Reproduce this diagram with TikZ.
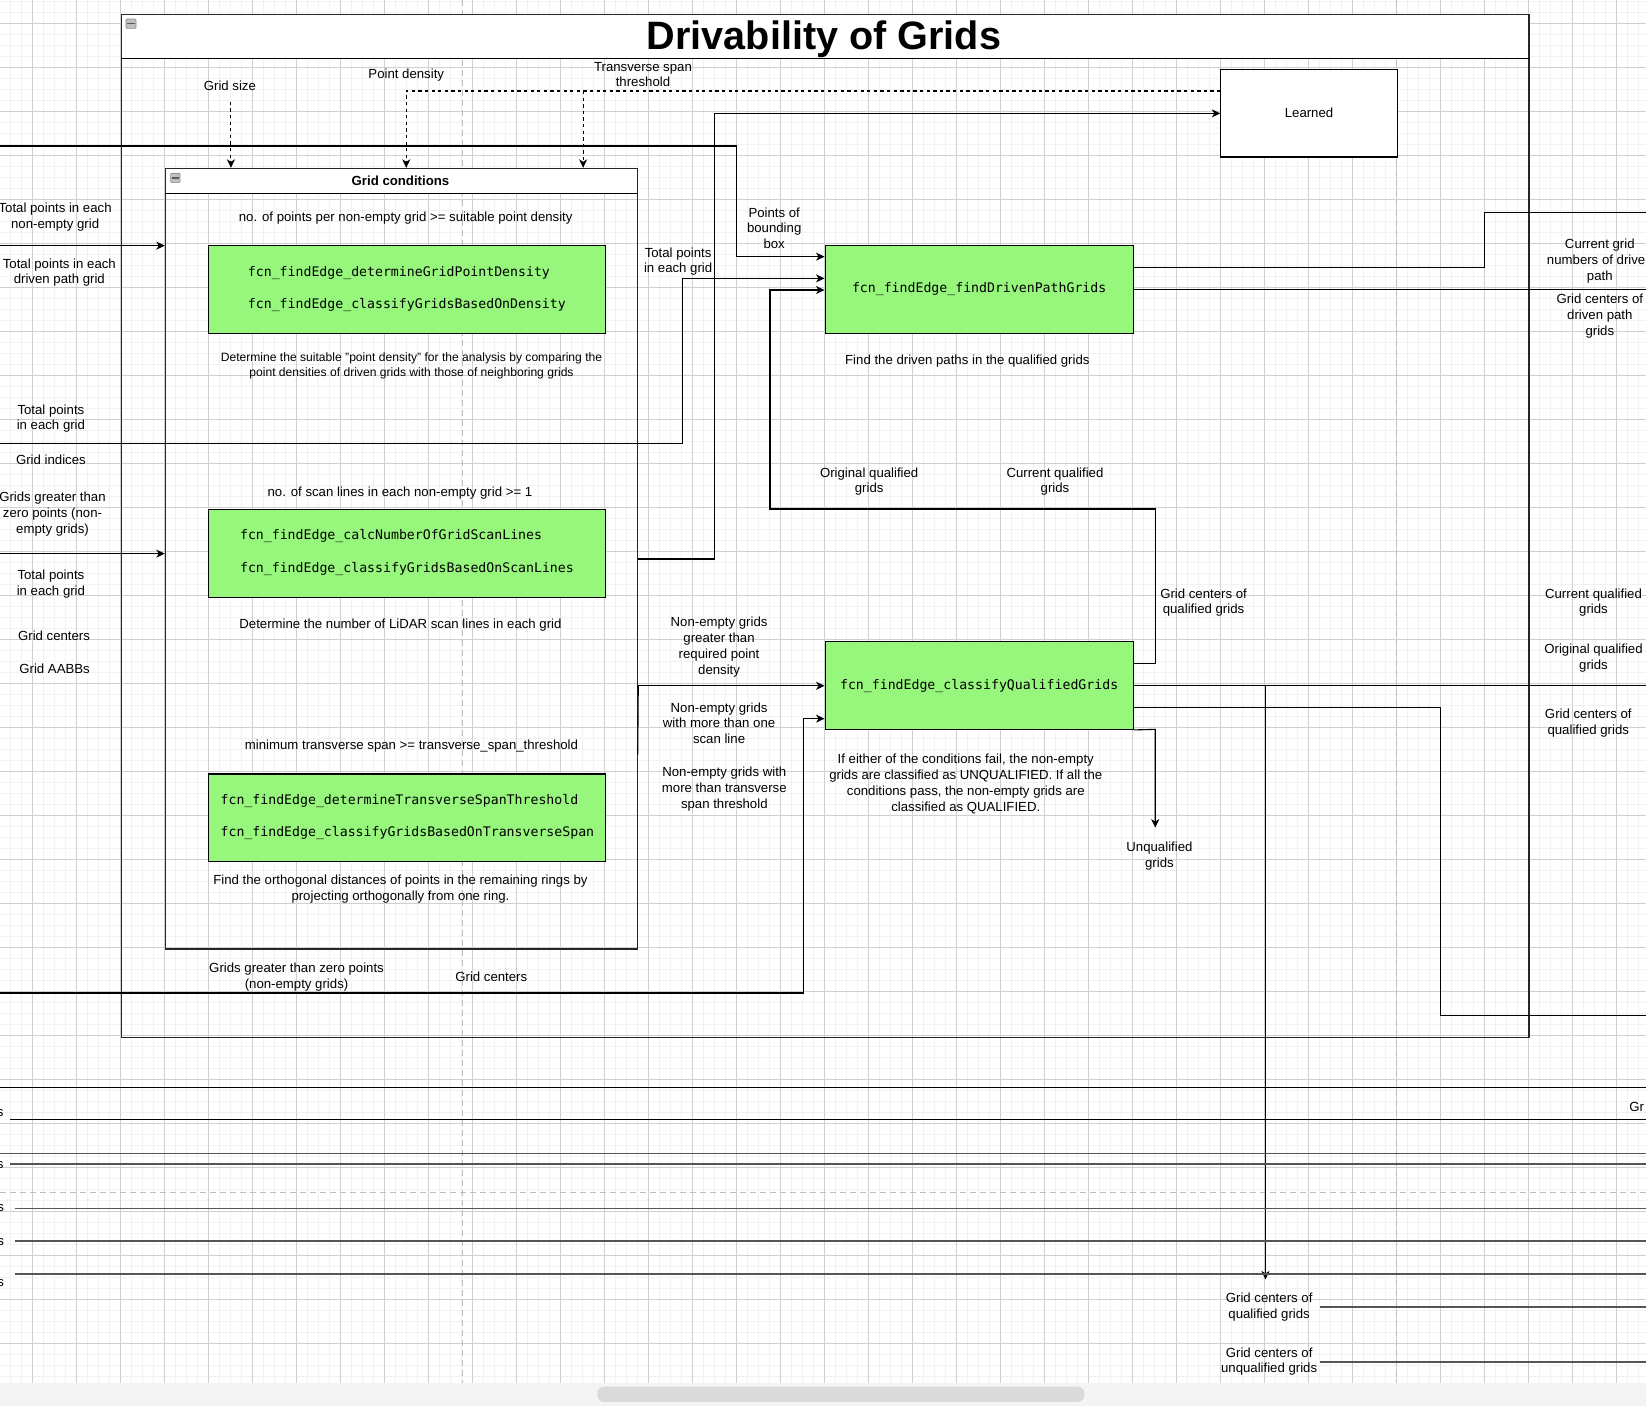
\documentclass[tikz,border=0pt]{standalone}
\usepackage{fontspec}
\setmainfont{Liberation Sans}
\newfontfamily\monof{DejaVu Sans Mono}
\usetikzlibrary{arrows.meta,fit}
\definecolor{gfill}{RGB}{150,247,124}
\definecolor{majorgray}{RGB}{208,208,208}
\definecolor{minorgray}{RGB}{242,242,242}
\definecolor{pbgray}{RGB}{190,190,190}
\definecolor{bandgray}{RGB}{244,244,244}
\definecolor{thumbgray}{RGB}{218,218,218}
\definecolor{bottomgray}{RGB}{85,85,85}
\begin{document}
\begin{tikzpicture}[x=1.0497pt,y=-1.0497pt,
  lbl/.style={font=\fontsize{13.2}{15.84}\selectfont, align=center, inner sep=0pt, text=black},
  smalllbl/.style={font=\fontsize{12.1}{15.6}\selectfont, align=center, inner sep=0pt, text=black},
  boldlbl/.style={font=\bfseries\fontsize{13.2}{15.84}\selectfont, inner sep=0pt},
  monotxt/.style={font=\monof\fontsize{13.2}{15.84}\selectfont, inner sep=0pt, anchor=west},
  monoc/.style={font=\monof\fontsize{13.2}{15.84}\selectfont, inner sep=0pt},
  greenbox/.style={draw=black, fill=gfill, line width=1.1pt, inner sep=0pt},
  whitebox/.style={draw=black, fill=white, line width=1.1pt, inner sep=0pt},
  lane/.style={draw=black!85, line width=1.1pt, inner sep=0pt},
  wire/.style={draw=black, line width=1.1pt},
  arrowwire/.style={wire, -{Stealth[length=8.5pt,width=8pt,inset=2.5pt]}},
  dasharrow/.style={arrowwire, dash pattern=on 3.3pt off 3.3pt},
  pagebreak/.style={draw=pbgray, line width=1pt, dash pattern=on 6pt off 4pt},
  thickline/.style={draw=black, line width=1.8pt},
  grayline/.style={draw=bottomgray, line width=1.6pt},
  collapseicon/.style={draw=black!45, fill=black!25, line width=0.6pt, rounded corners=1pt, inner sep=0pt}
]
\useasboundingbox (0,0) rectangle (1568,1339.4);
% background canvas
\fill[white] (0,0) rectangle (1568,1317.9);
\begin{scope}
  \clip (0,0) rectangle (1568,1317.9);
  \foreach \k in {-3,...,147} { \draw[minorgray, line width=1pt] ({30.77+\k*10.479},0) -- ++(0,1320); }
  \foreach \k in {-3,...,126} { \draw[minorgray, line width=1pt] (0,{22.58+\k*10.479}) -- ++(1570,0); }
  \foreach \k in {-1,...,37} { \draw[majorgray, line width=1pt] ({30.77+\k*41.916},0) -- ++(0,1320); }
  \foreach \k in {-1,...,32} { \draw[majorgray, line width=1pt] (0,{22.58+\k*41.916}) -- ++(1570,0); }
  \draw[pagebreak] (441,0) -- (441,1317.9);
  \draw[pagebreak] (1330.5,0) -- (1330.5,1317.9);
  \draw[pagebreak] (0,1135.6) -- (1568,1135.6);
\end{scope}
% bottom band and scrollbar
\fill[bandgray] (0,1317.9) rectangle (1568,1339.4);
\node[fill=thumbgray, rounded corners=6.5pt, inner sep=0pt, fit={(569,1321) (1033,1335.4)}] (thumb) {};

% outer container
\fill[white] (115.5,14) rectangle (1456.5,55.6);
\node[lane, fit={(115.5,14) (1456.5,988.3)}] (outer) {};
\draw[wire] (outer.west |- 0,55.6) -- (outer.east |- 0,55.6);
\node[font=\bfseries\fontsize{39.6}{47}\selectfont, inner sep=0pt] (title) at (785,37) {Drivability of Grids};
\node[collapseicon, fit={(120,18.1) (129.6,27)}] (icon1) {};
\draw[black!65, line width=1.4pt] ([xshift=1.5pt]icon1.west) -- ([xshift=-1.5pt]icon1.east);

% grid conditions container
\fill[white] (157.5,160.4) rectangle (607.5,184.2);
\node[lane, fit={(157.5,160.4) (607.5,904)}] (gc) {};
\draw[wire] (gc.west |- 0,184.2) -- (gc.east |- 0,184.2);
\node[boldlbl] (gctitle) at (381.5,172.5) {Grid conditions};
\node[collapseicon, fit={(162.5,165) (171.5,174)}] (icon2) {};
\draw[black!65, line width=1.4pt] ([xshift=1.5pt]icon2.west) -- ([xshift=-1.5pt]icon2.east);

% green boxes
\node[greenbox, fit={(199,234) (576.5,317.6)}] (b1) {};
\node[monotxt] (b1a) at (236,259.8) {fcn\_findEdge\_determineGridPointDensity};
\node[monotxt] (b1b) at (236,290.6) {fcn\_findEdge\_classifyGridsBasedOnDensity};

\node[greenbox, fit={(199,485.6) (576.5,569)}] (b2) {};
\node[monotxt] (b2a) at (228.5,511) {fcn\_findEdge\_calcNumberOfGridScanLines};
\node[monotxt] (b2b) at (228.5,542.4) {fcn\_findEdge\_classifyGridsBasedOnScanLines};

\node[greenbox, fit={(199,737.3) (576.5,820.7)}] (b3) {};
\node[monotxt] (b3a) at (210,762.9) {fcn\_findEdge\_determineTransverseSpanThreshold};
\node[monotxt] (b3b) at (210,793.8) {fcn\_findEdge\_classifyGridsBasedOnTransverseSpan};

\node[greenbox, fit={(786,234) (1079.5,317.6)}] (b4) {};
\node[monoc] (b4a) at (b4.center) {fcn\_findEdge\_findDrivenPathGrids};

\node[greenbox, fit={(786,611.4) (1079.5,694.8)}] (b5) {};
\node[monoc] (b5a) at (b5.center) {fcn\_findEdge\_classifyQualifiedGrids};

\node[whitebox, fit={(1163,66) (1331,149.6)}] (learned) {};
\node[lbl] (learnedt) at (learned.center) {Learned};

% free end coordinates
\coordinate (gsstart) at (220,96.9);
\coordinate (inA) at (0,139.1);
\coordinate (inB) at (0,234);
\coordinate (inC) at (0,422.4);
\coordinate (inD) at (0,527.4);
\coordinate (inE) at (0,945.9);
\coordinate (outA) at (1568,202.3);
\coordinate (outB) at (1568,275.6);
\coordinate (outC) at (1568,653.3);
\coordinate (outD) at (1568,967);
\coordinate (qtip) at (1205.5,1218.8);
\coordinate (uqtip) at (1100.5,788.4);

% dashed parameter arrows
\draw[dasharrow] (gsstart) -- (gc.north -| gsstart);
\draw[dasharrow] (learned.west |- 0,86.7) -- (387,86.7) -- (gc.north -| 387,0);
\draw[dasharrow] (555.5,86.7) -- (gc.north -| 555.5,0);

% connectors
\draw[arrowwire] (inA) -- (702,139.1) -- (702,244.5) -- (b4.west |- 0,244.5);
\draw[arrowwire] (gc.east |- 0,532.5) -- (681,532.5) -- (681,108) -- (learned.west |- 0,108);
\draw[arrowwire] (inC) -- (650,422.4) -- (650,265.2) -- (b4.west |- 0,265.2);
\draw[arrowwire] (b5.east |- 0,631.9) -- (1100.5,631.9) -- (1100.5,484.9) -- (733.5,484.9) -- (733.5,276.3) -- (b4.west |- 0,276.3);
\draw[wire] (b4.east |- 0,254.7) -- (1414.5,254.7) -- (1414.5,202.3) -- (outA);
\draw[wire] (b4.east |- 0,275.6) -- (outB);
\draw[arrowwire] (inB) -- (gc.west |- inB);
\draw[arrowwire] (inD) -- (gc.west |- inD);
\draw[arrowwire] (gc.east |- 0,653.3) -- (b5.west |- 0,653.3);
\draw[wire] (gc.east |- 0,653.3) -- (607.5,718.6);
\draw[arrowwire] (inE) -- (765,945.9) -- (765,684.6) -- (b5.west |- 0,684.6);
\draw[wire] (b5.east |- 0,653.3) -- (outC);
\draw[arrowwire] (1205.5,653.3) -- (qtip);
\draw[wire] (b5.east |- 0,673.7) -- (1372.5,673.7) -- (1372.5,967) -- (outD);
\draw[arrowwire] (b5.south east) -- (1100.5,694.8) -- (uqtip);

% bottom lines
\coordinate (bl1) at (0,1035.9);   \coordinate (br1) at (1568,1035.9);
\coordinate (bl2) at (10,1066.4);  \coordinate (br2) at (1568,1066.4);
\coordinate (bl3) at (0,1098.8);   \coordinate (br3) at (1568,1098.8);
\coordinate (bl4) at (10,1109);    \coordinate (br4) at (1568,1109);
\coordinate (bl5) at (14,1151.2);  \coordinate (br5) at (1568,1151.2);
\coordinate (bl6) at (14,1182.3);  \coordinate (br6) at (1568,1182.3);
\coordinate (bl7) at (14,1213.7);  \coordinate (br7) at (1568,1213.7);
\coordinate (bl8) at (1257,1244.9); \coordinate (br8) at (1568,1244.9);
\coordinate (bl9) at (1257,1297.2); \coordinate (br9) at (1568,1297.2);
\draw[thickline] (bl1) -- (br1);
\draw[thickline] (bl2) -- (br2);
\draw[grayline] (bl3) -- (br3);
\draw[grayline] (bl4) -- (br4);
\draw[grayline] (bl5) -- (br5);
\draw[grayline] (bl6) -- (br6);
\draw[grayline] (bl7) -- (br7);
\draw[grayline] (bl8) -- (br8);
\draw[grayline] (bl9) -- (br9);

% labels top
\node[lbl] (t1) at (219,81.3) {Grid size};
\node[lbl] (t2) at (387,71.4) {Point density};
\node[lbl] (t3) at (612.5,71) {Transverse span\\threshold};
\node[lbl] (t4) at (737.5,217.4) {Points of\\bounding\\box};
\node[lbl] (t5) at (646,249.2) {Total points\\in each grid};

% labels left
\node[lbl] (l1) at (52.5,207.2) {Total points in each\\non-empty grid};
\node[lbl] (l2) at (56.5,259.6) {Total points in each\\driven path grid};
\node[lbl] (l3) at (48.5,398.8) {Total points\\in each grid};
\node[lbl] (l4) at (48.5,437.8) {Grid indices};
\node[lbl] (l5) at (50,489.6) {Grids greater than\\zero points (non-\\empty grids)};
\node[lbl] (l6) at (48.5,556.2) {Total points\\in each grid};
\node[lbl] (l7) at (51.5,605.7) {Grid centers};
\node[lbl] (l8) at (52,637) {Grid AABBs};

% labels inside grid conditions
\node[lbl] (c1) at (386.5,207.4) {no. of points per non-empty grid >= suitable point density};
\node[smalllbl] (c2) at (392,348.4) {Determine the suitable "point density" for the analysis by comparing the\\point densities of driven grids with those of neighboring grids};
\node[lbl] (c3) at (381,469.6) {no. of scan lines in each non-empty grid >= 1};
\node[lbl] (c4) at (381.5,595.1) {Determine the number of LiDAR scan lines in each grid};
\node[lbl] (c5) at (392,710.5) {minimum transverse span >= transverse\_span\_threshold};
\node[lbl] (c6) at (381.5,847) {Find the orthogonal distances of points in the remaining rings by\\projecting orthogonally from one ring.};
\node[lbl] (c7) at (282.5,930.5) {Grids greater than zero points\\(non-empty grids)};
\node[lbl] (c8) at (468,930.3) {Grid centers};

% labels middle
\node[lbl] (m1) at (685,616.2) {Non-empty grids\\greater than\\required point\\density};
\node[lbl] (m2) at (685,689) {Non-empty grids\\with more than one\\scan line};
\node[lbl] (m3) at (690,752) {Non-empty grids with\\more than transverse\\span threshold};
\node[lbl] (m4) at (921.5,343.6) {Find the driven paths in the qualified grids};
\node[lbl] (m5) at (828,458.8) {Original qualified\\grids};
\node[lbl] (m6) at (1005,458.8) {Current qualified\\grids};
\node[lbl] (m7) at (1146.5,574) {Grid centers of\\qualified grids};
\node[lbl] (m8) at (920,746.7) {If either of the conditions fail, the non-empty\\grids are classified as UNQUALIFIED. If all the\\conditions pass, the non-empty grids are\\classified as QUALIFIED.};
\node[lbl] (m9) at (1104.5,815.4) {Unqualified\\grids};

% labels right
\node[lbl] (r1) at (1524,249) {Current grid\\numbers of driven\\path};
\node[lbl] (r2) at (1524,301.3) {Grid centers of\\driven path\\grids};
\node[lbl] (r3) at (1518,574.1) {Current qualified\\grids};
\node[lbl] (r4) at (1518,626.5) {Original qualified\\grids};
\node[lbl] (r5) at (1513,689.2) {Grid centers of\\qualified grids};

% labels bottom
\node[lbl, anchor=west] (g1) at (1552,1054.3) {Gr};
\node[lbl, anchor=east] (s1) at (3.5,1060) {s};
\node[lbl, anchor=east] (s2) at (3.5,1110) {s};
\node[lbl, anchor=east] (s3) at (4,1151) {s};
\node[lbl, anchor=east] (s4) at (4,1183) {s};
\node[lbl, anchor=east] (s5) at (4,1222) {s};
\node[lbl] (q1) at (1209,1244.9) {Grid centers of\\qualified grids};
\node[lbl] (q2) at (1209,1297) {Grid centers of\\unqualified grids};
\end{tikzpicture}
\end{document}
